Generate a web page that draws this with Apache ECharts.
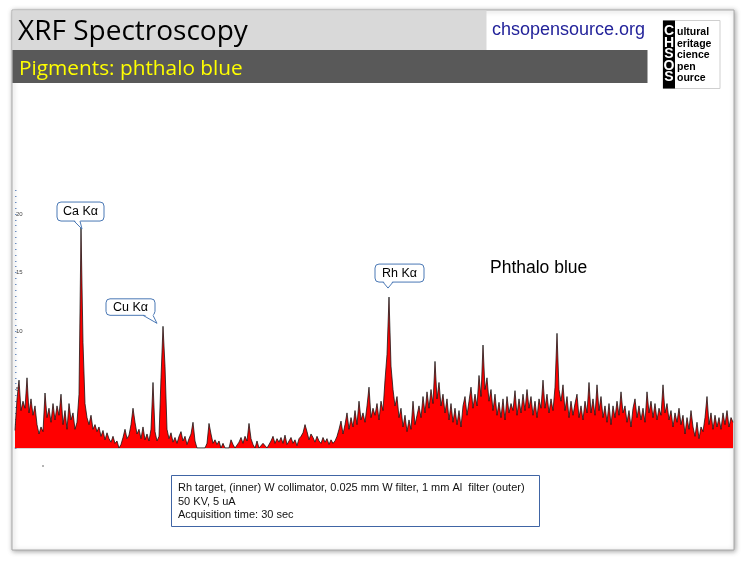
<!DOCTYPE html>
<html>
<head>
<meta charset="utf-8">
<title>XRF Spectroscopy - phthalo blue</title>
<script src="https://cdn.jsdelivr.net/npm/echarts@6.0.0/dist/echarts.min.js"></script>
<style>
    html, body { margin: 0; padding: 0; background: #fff; }
    #chart { width: 746px; height: 565px; }
</style>
</head>
<body>
<div id="chart"></div>
<script>
// 谱图计数, 每个通道一个值
var counts = [
    1.5, 4.2, 5.8, 3.2, 4.0, 3.4, 6.0, 3.0, 4.2, 2.8,
    3.6, 2.0, 1.2, 1.8, 1.4, 4.7, 2.6, 3.4, 2.2, 3.8,
    2.4, 3.6, 2.8, 4.6, 2.0, 3.2, 1.6, 3.8, 2.4, 3.0,
    1.6, 2.2, 4.6, 18.8, 9.0, 3.8, 2.6, 2.0, 2.8, 1.6,
    2.0, 1.4, 1.8, 1.0, 1.5, 0.7, 1.3, 0.8, 0.5, 1.0,
    0.4, 0.6, 0, 0.3, 0.9, 1.6, 0.8, 1.1, 2.0, 3.4,
    2.2, 1.2, 1.6, 0.8, 1.8, 0.7, 1.2, 0.6, 1.6, 5.6,
    1.4, 0.6, 1.0, 6.0, 10.4, 7.0, 1.6, 0.8, 1.3, 0.5,
    0.9, 0.4, 1.0, 1.4, 0.6, 1.0, 0.3, 0.8, 1.2, 2.2,
    0.6, 0, 0, 0, 0, 0, 0.4, 2.1, 1.2, 0.4,
    0.7, 0.3, 0.6, 0, 0.4, 0, 0, 0, 0.7, 0.3,
    0, 0, 0.5, 0.9, 0.4, 1.0, 0.6, 2.1, 0.8, 0.3,
    0, 0.6, 0, 0, 0.4, 0.5, 0, 0.3, 0.6, 1.0,
    0.4, 0.8, 0.5, 0.9, 0.4, 1.1, 0.3, 0.6, 0.9, 0.4,
    0.7, 0.2, 0.8, 1.0, 1.3, 2.0, 1.4, 0.7, 1.2, 0.9,
    0.5, 1.0, 0.6, 0.4, 0.9, 0.5, 0.8, 0.3, 0.7, 0.4,
    0.6, 1.0, 1.6, 2.3, 1.2, 2.0, 3.0, 1.6, 2.6, 1.8,
    3.2, 2.0, 4.0, 2.4, 3.0, 2.2, 3.6, 5.2, 2.6, 3.4,
    2.8, 3.8, 2.4, 4.0, 3.2, 5.8, 8.0, 12.9, 7.0, 5.0,
    3.6, 4.4, 2.6, 3.4, 1.8, 2.8, 1.4, 2.4, 1.6, 4.0,
    2.0, 2.8, 3.6, 2.6, 4.4, 3.0, 4.8, 3.4, 5.0, 3.8,
    7.4, 4.2, 5.6, 3.6, 4.6, 3.0, 4.2, 2.4, 3.8, 2.2,
    3.4, 2.0, 3.2, 1.8, 3.6, 4.4, 2.8, 4.0, 5.2, 3.4,
    4.6, 3.6, 6.2, 4.4, 8.8, 5.0, 6.0, 4.0, 5.0, 3.2,
    4.6, 2.8, 3.9, 2.6, 4.2, 2.4, 4.4, 3.0, 3.8, 3.2,
    4.9, 2.8, 4.2, 3.0, 4.6, 3.2, 5.0, 3.4, 4.4, 2.8,
    4.0, 2.6, 4.2, 3.4, 5.8, 3.4, 4.6, 3.0, 4.2, 3.2,
    5.2, 9.8, 5.0, 4.0, 5.4, 3.2, 4.4, 2.6, 4.0, 2.8,
    3.8, 4.6, 2.6, 3.6, 2.4, 4.0, 3.0, 5.6, 3.0, 4.2,
    2.8, 5.4, 3.2, 4.4, 2.6, 3.6, 2.2, 3.8, 2.0, 3.6,
    2.6, 4.0, 2.8, 4.8, 3.0, 3.6, 2.2, 3.2, 1.8, 3.4,
    4.2, 2.6, 3.6, 2.4, 3.4, 2.2, 4.8, 3.0, 4.0, 2.6,
    3.8, 2.4, 3.4, 2.8, 5.4, 3.0, 3.8, 2.4, 3.2, 1.8,
    3.0, 2.2, 3.4, 2.0, 2.8, 1.2, 2.6, 1.6, 3.2, 1.8,
    1.0, 2.2, 0.8, 1.8, 1.4, 2.6, 4.4, 2.0, 3.0, 1.6,
    2.8, 1.8, 2.6, 1.6, 3.0, 2.0, 3.2, 1.8, 2.6, 2.2
];
// y 轴
var yMax = 22;
var yStep = 5;
// 峰标注
var peakLabels = ['Ca Kα', 'Cu Kα', 'Rh Kα'];
var peakIndex = [33, 74, 187];
// 文字
var titleText = 'XRF Spectroscopy';
var subTitleText = 'Pigments: phthalo blue';
var siteText = 'chsopensource.org';
var sampleText = 'Phthalo blue';
var logoLetters = ['C', 'H', 'S', 'O', 'S'];
var logoWords = ['ultural', 'eritage', 'cience', 'pen', 'ource'];
var captionLines = [
    'Rh target, (inner) W collimator, 0.025 mm W filter, 1 mm Al  filter (outer)',
    '50 KV, 5 uA',
    'Acquisition time: 30 sec'
];

var myChart = echarts.init(document.getElementById('chart'));

var option = {
    backgroundColor: '#fff',
    animation: false,
    grid: { left: 15, right: 13, top: 190.6, bottom: 117 },
    xAxis: {
        type: 'value',
        min: 0,
        max: counts.length - 1,
        axisLine: { show: true, lineStyle: { color: '#d6d6d6', width: 2 } },
        axisTick: { show: false },
        axisLabel: { show: false },
        splitLine: { show: false }
    },
    yAxis: {
        type: 'value',
        min: 0,
        max: yMax,
        interval: yStep,
        axisLine: { show: false },
        axisTick: { show: true, inside: true, length: 1.5, lineStyle: { color: '#6a8cc0' } },
        minorTick: { show: true, splitNumber: 10, length: 1.5, lineStyle: { color: '#6a8cc0' } },
        axisLabel: {
            inside: true, fontSize: 6, color: '#444', margin: 1,
            fontFamily: 'Liberation Sans',
            formatter: function (v) { return (v === 0 || v % yStep) ? '' : v; }
        },
        splitLine: { show: false }
    },
    series: [{
        type: 'line',
        data: counts.map(function (v, i) { return [i, v]; }),
        symbol: 'none',
        silent: true,
        lineStyle: { color: '#111', width: 0.9, opacity: 0.85 },
        areaStyle: { color: '#ff0000', opacity: 1 }
    }]
};
myChart.setOption(option);

// 标注框相对峰顶的位置: 框 [dx, dy, w, h], 尾巴 [x1, x2, y, 尖dx, 尖dy]
var calloutLayout = [
    { box: [-24, -26, 47, 19], tail: [-7, -1, 0, 1, 1] },
    { box: [-57, -27.5, 49, 16.5], tail: [-20, -10, 0, -6, -3] },
    { box: [-14, -33, 49, 18], tail: [-6, 4, 0, -1, -9] }
];

var els = [];
// 幻灯片底板
els.push({
    type: 'rect', z: -10,
    shape: { x: 12, y: 10, width: 722, height: 540 },
    style: { fill: '#fff', stroke: '#a8a8a8', lineWidth: 1, shadowBlur: 5, shadowColor: 'rgba(0,0,0,0.35)', shadowOffsetX: 1, shadowOffsetY: 1 }
});
// 标题栏
els.push({ type: 'rect', z: 50, shape: { x: 12.5, y: 10.5, width: 474, height: 40 }, style: { fill: '#d9d9d9' } });
els.push({ type: 'rect', z: 50, shape: { x: 12.5, y: 50, width: 635, height: 33 }, style: { fill: '#595959' } });
els.push({ type: 'text', z: 51, style: { text: titleText, x: 18, y: 32, font: '28px "Open Sans"', fill: '#000', textVerticalAlign: 'middle' } });
els.push({ type: 'text', z: 51, style: { text: subTitleText, x: 19, y: 69, font: '20.8px "Open Sans"', fill: '#ffff00', textVerticalAlign: 'middle' } });
els.push({ type: 'text', z: 51, style: { text: siteText, x: 492, y: 30, font: '18px "Liberation Sans"', fill: '#23239a', textVerticalAlign: 'middle' } });

// logo
els.push({ type: 'rect', z: 50, shape: { x: 663, y: 20.5, width: 57, height: 68 }, style: { fill: '#fff', stroke: '#cfcfcf', lineWidth: 1 } });
els.push({ type: 'rect', z: 51, shape: { x: 663, y: 20.5, width: 12, height: 68 }, style: { fill: '#000' } });
for (var i = 0; i < logoLetters.length; i++) {
    var ly = 31.5 + i * 11.4;
    els.push({ type: 'text', z: 52, style: { text: logoLetters[i], x: 669, y: ly, font: 'bold 14px "Liberation Sans"', fill: '#fff', textAlign: 'center', textVerticalAlign: 'middle' } });
    els.push({ type: 'text', z: 52, style: { text: logoWords[i], x: 677, y: ly + 1, font: 'bold 10.5px "Liberation Sans"', fill: '#000', textVerticalAlign: 'middle' } });
}

// 样品名
els.push({ type: 'text', z: 51, style: { text: sampleText, x: 490, y: 268, font: '17.5px "Liberation Sans"', fill: '#000', textVerticalAlign: 'middle' } });

// 峰标注
for (var k = 0; k < peakIndex.length; k++) {
    var p = myChart.convertToPixel({ gridIndex: 0 }, [peakIndex[k], counts[peakIndex[k]]]);
    var b = calloutLayout[k].box;
    var t = calloutLayout[k].tail;
    var bx = p[0] + b[0], by = p[1] + b[1];
    var baseY = by + b[3];
    var ax = p[0] + t[3], ay = p[1] + t[4];
    els.push({ type: 'rect', z: 60, shape: { x: bx, y: by, width: b[2], height: b[3], r: 4 }, style: { fill: '#fff', stroke: '#4a78b5', lineWidth: 1 } });
    els.push({ type: 'polygon', z: 61, shape: { points: [[p[0] + t[0], baseY - 1.5], [p[0] + t[1], baseY - 1.5], [ax, ay]] }, style: { fill: '#fff' } });
    els.push({ type: 'polyline', z: 62, shape: { points: [[p[0] + t[0], baseY], [ax, ay], [p[0] + t[1], baseY]] }, style: { stroke: '#4a78b5', lineWidth: 1, fill: null } });
    els.push({ type: 'text', z: 63, style: { text: peakLabels[k], x: bx + b[2] / 2, y: by + b[3] / 2 + 0.5, font: '12.5px "Liberation Sans"', fill: '#000', textAlign: 'center', textVerticalAlign: 'middle' } });
}

// 小点
els.push({ type: 'circle', z: 51, shape: { cx: 43, cy: 466, r: 0.7 }, style: { fill: '#333' } });

// 说明框
els.push({ type: 'rect', z: 50, shape: { x: 171.5, y: 475.5, width: 368, height: 51 }, style: { fill: '#fff', stroke: '#4065a5', lineWidth: 1 } });
for (var j = 0; j < captionLines.length; j++) {
    els.push({ type: 'text', z: 51, style: { text: captionLines[j], x: 178, y: 488 + j * 13.5, font: '11px "Liberation Sans Narrow", "Liberation Sans"', fill: '#111', textVerticalAlign: 'middle' } });
}

myChart.setOption({ graphic: { elements: els } });
</script>
</body>
</html>
